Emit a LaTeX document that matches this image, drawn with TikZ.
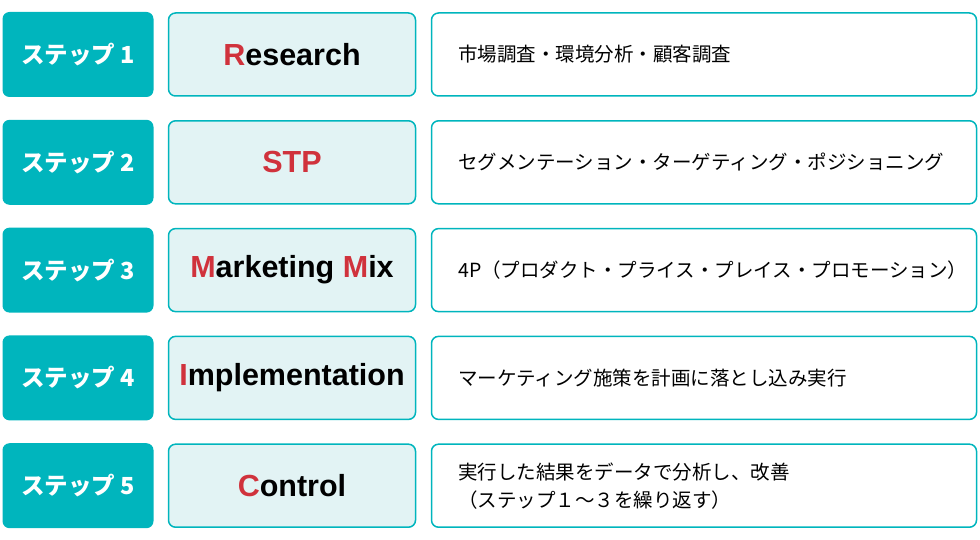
\documentclass[tikz,border=0pt]{standalone}
\usepackage{fontspec}
\setmainfont{Liberation Sans}
\newfontfamily\jp{Noto Sans CJK JP}
\definecolor{tealc}{HTML}{00B5BD}
\definecolor{lightc}{HTML}{E2F3F4}
\definecolor{redc}{HTML}{D0323C}
\tikzset{
 stepbox/.style={fill=tealc,rounded corners=7pt,minimum width=151pt,minimum height=85pt,text=white,font=\jp\bfseries\fontsize{23.5}{26}\selectfont},
 namebox/.style={fill=lightc,draw=tealc,line width=1.5pt,rounded corners=7pt,minimum width=247pt,minimum height=83pt,font=\bfseries\fontsize{30.5}{33}\selectfont},
 descbox/.style={draw=tealc,line width=1.5pt,rounded corners=7pt,minimum width=545pt,minimum height=83pt},
 desctext/.style={anchor=west,align=left,font=\jp\fontsize{19.5}{28}\selectfont}
}
\newcommand{\R}[1]{\textcolor{redc}{#1}}
\begin{document}
\begin{tikzpicture}[x=1pt,y=-1pt]
\useasboundingbox (0,0) rectangle (980,540);
\foreach \i/\n/\d [count=\k] in {
 1/{\R{R}esearch}/{市場調査・環境分析・顧客調査},
 2/{\R{STP}}/{セグメンテーション・ターゲティング・ポジショニング},
 3/{\R{M}arketing \R{M}ix}/{4P（プロダクト・プライス・プレイス・プロモーション）},
 4/{\R{I}mplementation}/{マーケティング施策を計画に落とし込み実行},
 5/{\R{C}ontrol}/{実行した結果をデータで分析し、改善\\（ステップ１～３を繰り返す）}}{
 \pgfmathsetmacro{\yy}{54.5+107.8*(\k-1)}
 \node[stepbox] (s\k) at (78,\yy) {ステップ \i};
 \node[namebox] (n\k) at (292,\yy) {\n};
 \node[descbox] (d\k) at (704,\yy) {};
 \node[desctext] (t\k) at ([xshift=24pt]d\k.west) {\d};
}
\end{tikzpicture}
\end{document}
